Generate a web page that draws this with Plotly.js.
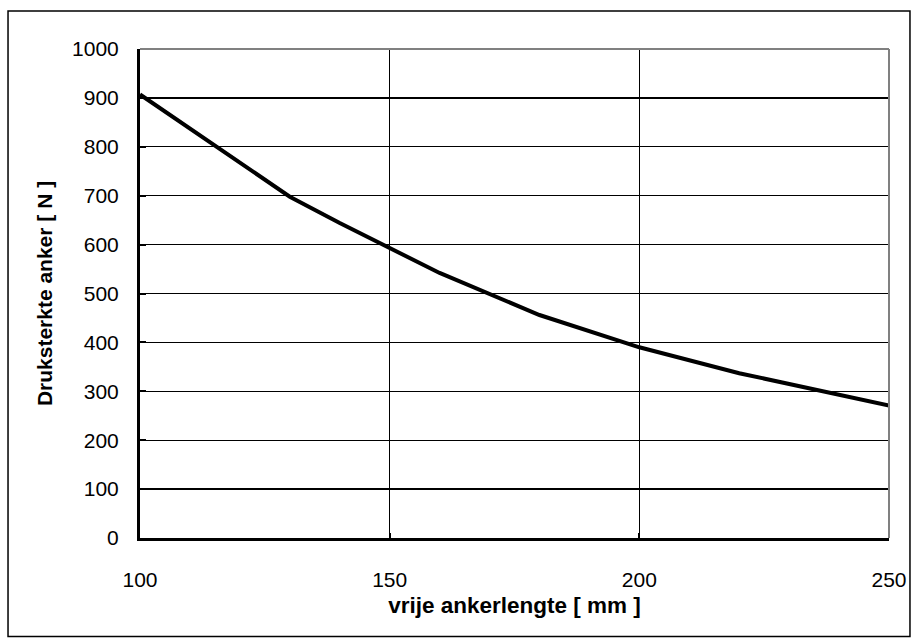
<!DOCTYPE html>
<html>
<head>
<meta charset="utf-8">
<script src="https://cdn.plot.ly/plotly-3.0.1.min.js"></script>
<style>html,body{margin:0;padding:0;background:#fff;}#chart{width:915px;height:644px;}</style>
</head>
<body>
<div id="chart"></div>
<script>
const ankerlengte = [100, 130, 140, 160, 180, 200, 220, 250];
const drukSterkte = [907, 698, 644, 542, 456, 390, 337, 271];
const xTicks = [100, 150, 200, 250];
const yTicks = [0, 100, 200, 300, 400, 500, 600, 700, 800, 900, 1000];

const trace = {
  x: ankerlengte,
  y: drukSterkte,
  type: 'scatter',
  mode: 'lines',
  line: {color: '#000', width: 4},
  hoverinfo: 'skip'
};

const tickFont = {family: 'Liberation Sans, Arial, sans-serif', size: 21, color: '#000'};
const xTitleFont = {family: 'Liberation Sans, Arial, sans-serif', size: 22.5, color: '#000'};
const yTitleFont = {family: 'Liberation Sans, Arial, sans-serif', size: 21, color: '#000'};

const layout = {
  width: 915, height: 644,
  margin: {l: 140, r: 26, t: 49, b: 105.5},
  paper_bgcolor: '#fff', plot_bgcolor: '#fff',
  showlegend: false,
  font: tickFont,
  xaxis: {
    range: [100, 250], tickvals: xTicks, ticktext: xTicks.map(String),
    showgrid: true, gridcolor: '#000', gridwidth: 1.3,
    showline: true, linecolor: '#000', linewidth: 3,
    ticks: 'inside', ticklen: 5, tickwidth: 2, tickcolor: '#000',
    ticklabelstandoff: 21,
    zeroline: false, tickfont: tickFont,
    title: {text: '<b>vrije ankerlengte [ mm ]</b>', font: xTitleFont, standoff: 8}
  },
  yaxis: {
    range: [0, 1000], tickvals: yTicks, ticktext: yTicks.map(String),
    showgrid: true, gridcolor: '#000', gridwidth: 1.3,
    showline: true, linecolor: '#000', linewidth: 3,
    ticks: 'inside', ticklen: 6, tickwidth: 2, tickcolor: '#000',
    ticklabelstandoff: 14,
    zeroline: false, tickfont: tickFont,
    title: {text: '<b>Druksterkte anker [ N ]</b>', font: yTitleFont, standoff: 14}
  },
  shapes: [
    {type: 'line', xref: 'paper', yref: 'paper', x0: 1, x1: 1, y0: 0, y1: 1,
     line: {color: '#808080', width: 2}, layer: 'above'},
    {type: 'line', xref: 'paper', yref: 'paper', x0: 0, x1: 1, y0: 1, y1: 1,
     line: {color: '#808080', width: 2}, layer: 'above'},
    {type: 'rect', xref: 'paper', yref: 'paper', x0: -0.1762, x1: 1.028, y0: -0.2012, y1: 1.0776,
     line: {color: '#000', width: 1.5}, fillcolor: 'rgba(0,0,0,0)', layer: 'above'}
  ]
};

Plotly.newPlot('chart', [trace], layout, {staticPlot: true, displayModeBar: false});
</script>
</body>
</html>
